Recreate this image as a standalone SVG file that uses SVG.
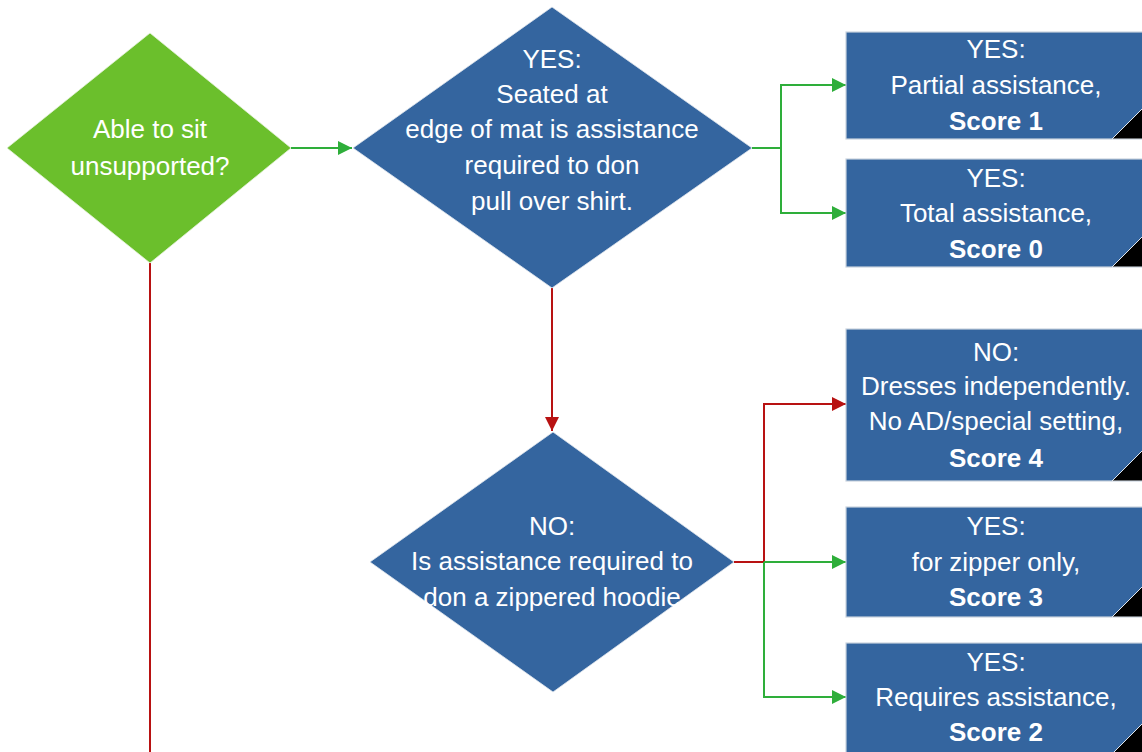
<svg xmlns="http://www.w3.org/2000/svg" width="1142" height="752" viewBox="0 0 1142 752">
<style>
text{font-family:"Liberation Sans",Arial,sans-serif;font-size:26px;fill:#fff;text-anchor:middle}
.b{font-weight:bold}
.box{fill:#34659F;stroke:#C9D3DE;stroke-width:1.2}
.dia{fill:#34659F;stroke:#dfe6ee;stroke-width:0.8}
.gdia{fill:#6BBF2C;stroke:#e6f3dc;stroke-width:0.8}
.corner{fill:#000;stroke:#dfe6ee;stroke-width:1}
.g{fill:none;stroke:#2EAE3A;stroke-width:2}
.r{fill:none;stroke:#B81212;stroke-width:2}
</style>
<defs>
<marker id="ag" markerUnits="userSpaceOnUse" markerWidth="16" markerHeight="16" refX="14" refY="7" orient="auto" viewBox="0 0 16 16"><path d="M0,0 L14,7 L0,14 Z" fill="#2EAE3A"/></marker>
<marker id="ar" markerUnits="userSpaceOnUse" markerWidth="16" markerHeight="16" refX="14" refY="7" orient="auto" viewBox="0 0 16 16"><path d="M0,0 L14,7 L0,14 Z" fill="#B81212"/></marker>
</defs>
<g id="connectors">
<path class="g" d="M291,148 H352" marker-end="url(#ag)"/>
<path class="g" d="M752,148 H781 V85 H846" marker-end="url(#ag)"/>
<path class="g" d="M781,148 V213 H846" marker-end="url(#ag)"/>
<path class="r" d="M552,288 V431" marker-end="url(#ar)"/>
<path class="r" d="M734,562 H764 V404 H846" marker-end="url(#ar)"/>
<path class="g" d="M764,562 H846" marker-end="url(#ag)"/>
<path class="g" d="M764,562 V697 H846" marker-end="url(#ag)"/>
<path class="r" d="M150,263 V752"/>
</g>
<g id="n-sit">
<polygon class="gdia" points="150,33 291,148 150,263 7,148"/>
<text x="150" y="138">Able to sit</text>
<text x="150" y="175">unsupported?</text>
</g>
<g id="n-shirt">
<polygon class="dia" points="552,7 752,148 552,288 353,148"/>
<text x="552" y="68">YES:</text>
<text x="552" y="103">Seated at</text>
<text x="552" y="138">edge of mat is assistance</text>
<text x="552" y="174">required to don</text>
<text x="552" y="210">pull over shirt.</text>
</g>
<g id="n-hoodie">
<polygon class="dia" points="553,432 734,562 553,692 370,562"/>
<text x="552" y="535">NO:</text>
<text x="552" y="570">Is assistance required to</text>
<text x="552" y="606">don a zippered hoodie</text>
</g>
<g id="n-score1">
<rect class="box" x="846" y="32" width="310" height="107"/>
<polygon class="corner" points="1112,139 1143,108 1143,139"/>
<text x="996" y="58">YES:</text>
<text x="996" y="94">Partial assistance,</text>
<text x="996" y="130" class="b">Score 1</text>
</g>
<g id="n-score0">
<rect class="box" x="846" y="159" width="310" height="108"/>
<polygon class="corner" points="1112,267 1143,236 1143,267"/>
<text x="996" y="187">YES:</text>
<text x="996" y="222">Total assistance,</text>
<text x="996" y="258" class="b">Score 0</text>
</g>
<g id="n-score4">
<rect class="box" x="846" y="329" width="310" height="152"/>
<polygon class="corner" points="1112,481 1143,450 1143,481"/>
<text x="996" y="361">NO:</text>
<text x="996" y="395">Dresses independently.</text>
<text x="996" y="430">No AD/special setting,</text>
<text x="996" y="467" class="b">Score 4</text>
</g>
<g id="n-score3">
<rect class="box" x="846" y="507" width="310" height="110"/>
<polygon class="corner" points="1112,617 1143,586 1143,617"/>
<text x="996" y="535">YES:</text>
<text x="996" y="571">for zipper only,</text>
<text x="996" y="606" class="b">Score 3</text>
</g>
<g id="n-score2">
<rect class="box" x="846" y="643" width="310" height="120"/>
<polygon class="corner" points="1112,754 1143,723 1143,754"/>
<text x="996" y="671">YES:</text>
<text x="996" y="706">Requires assistance,</text>
<text x="996" y="741" class="b">Score 2</text>
</g>
</svg>
